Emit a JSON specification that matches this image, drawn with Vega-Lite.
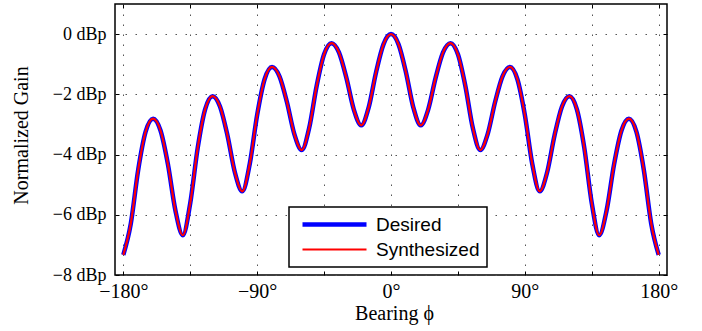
{
  "$schema": "https://vega.github.io/schema/vega-lite/v6.json",
  "width": 552,
  "height": 271,
  "autosize": {"type": "none"},
  "padding": {"left": 115, "top": 4, "right": 35, "bottom": 56},
  "background": "white",
  "config": {
    "view": {"stroke": "black", "strokeWidth": 1.5},
    "legend": {"strokeWidth": 1.5}
  },
  "data": {"values": [
    {"phi": -180, "Desired": -7.33, "Synthesized": -7.33},
    {"phi": -175, "Desired": -6.299, "Synthesized": -6.299},
    {"phi": -170, "Desired": -4.507, "Synthesized": -4.507},
    {"phi": -165, "Desired": -3.242, "Synthesized": -3.242},
    {"phi": -160, "Desired": -2.81, "Synthesized": -2.81},
    {"phi": -155, "Desired": -3.202, "Synthesized": -3.202},
    {"phi": -150, "Desired": -4.327, "Synthesized": -4.327},
    {"phi": -145, "Desired": -5.85, "Synthesized": -5.85},
    {"phi": -140, "Desired": -6.68, "Synthesized": -6.68},
    {"phi": -135, "Desired": -5.614, "Synthesized": -5.614},
    {"phi": -130, "Desired": -3.783, "Synthesized": -3.783},
    {"phi": -125, "Desired": -2.498, "Synthesized": -2.498},
    {"phi": -120, "Desired": -2.06, "Synthesized": -2.06},
    {"phi": -115, "Desired": -2.402, "Synthesized": -2.402},
    {"phi": -110, "Desired": -3.358, "Synthesized": -3.358},
    {"phi": -105, "Desired": -4.588, "Synthesized": -4.588},
    {"phi": -100, "Desired": -5.22, "Synthesized": -5.22},
    {"phi": -95, "Desired": -4.312, "Synthesized": -4.312},
    {"phi": -90, "Desired": -2.682, "Synthesized": -2.682},
    {"phi": -85, "Desired": -1.499, "Synthesized": -1.499},
    {"phi": -80, "Desired": -1.09, "Synthesized": -1.09},
    {"phi": -75, "Desired": -1.4, "Synthesized": -1.4},
    {"phi": -70, "Desired": -2.254, "Synthesized": -2.254},
    {"phi": -65, "Desired": -3.319, "Synthesized": -3.319},
    {"phi": -60, "Desired": -3.85, "Synthesized": -3.85},
    {"phi": -55, "Desired": -3.112, "Synthesized": -3.112},
    {"phi": -50, "Desired": -1.722, "Synthesized": -1.722},
    {"phi": -45, "Desired": -0.67, "Synthesized": -0.67},
    {"phi": -40, "Desired": -0.3, "Synthesized": -0.3},
    {"phi": -35, "Desired": -0.607, "Synthesized": -0.607},
    {"phi": -30, "Desired": -1.454, "Synthesized": -1.454},
    {"phi": -25, "Desired": -2.506, "Synthesized": -2.506},
    {"phi": -20, "Desired": -3.03, "Synthesized": -3.03},
    {"phi": -15, "Desired": -2.432, "Synthesized": -2.432},
    {"phi": -10, "Desired": -1.256, "Synthesized": -1.256},
    {"phi": -5, "Desired": -0.332, "Synthesized": -0.332},
    {"phi": 0, "Desired": 0, "Synthesized": 0},
    {"phi": 5, "Desired": -0.332, "Synthesized": -0.332},
    {"phi": 10, "Desired": -1.256, "Synthesized": -1.256},
    {"phi": 15, "Desired": -2.432, "Synthesized": -2.432},
    {"phi": 20, "Desired": -3.03, "Synthesized": -3.03},
    {"phi": 25, "Desired": -2.506, "Synthesized": -2.506},
    {"phi": 30, "Desired": -1.454, "Synthesized": -1.454},
    {"phi": 35, "Desired": -0.607, "Synthesized": -0.607},
    {"phi": 40, "Desired": -0.3, "Synthesized": -0.3},
    {"phi": 45, "Desired": -0.67, "Synthesized": -0.67},
    {"phi": 50, "Desired": -1.722, "Synthesized": -1.722},
    {"phi": 55, "Desired": -3.112, "Synthesized": -3.112},
    {"phi": 60, "Desired": -3.85, "Synthesized": -3.85},
    {"phi": 65, "Desired": -3.319, "Synthesized": -3.319},
    {"phi": 70, "Desired": -2.254, "Synthesized": -2.254},
    {"phi": 75, "Desired": -1.4, "Synthesized": -1.4},
    {"phi": 80, "Desired": -1.09, "Synthesized": -1.09},
    {"phi": 85, "Desired": -1.499, "Synthesized": -1.499},
    {"phi": 90, "Desired": -2.682, "Synthesized": -2.682},
    {"phi": 95, "Desired": -4.312, "Synthesized": -4.312},
    {"phi": 100, "Desired": -5.22, "Synthesized": -5.22},
    {"phi": 105, "Desired": -4.588, "Synthesized": -4.588},
    {"phi": 110, "Desired": -3.358, "Synthesized": -3.358},
    {"phi": 115, "Desired": -2.402, "Synthesized": -2.402},
    {"phi": 120, "Desired": -2.06, "Synthesized": -2.06},
    {"phi": 125, "Desired": -2.498, "Synthesized": -2.498},
    {"phi": 130, "Desired": -3.783, "Synthesized": -3.783},
    {"phi": 135, "Desired": -5.614, "Synthesized": -5.614},
    {"phi": 140, "Desired": -6.68, "Synthesized": -6.68},
    {"phi": 145, "Desired": -5.85, "Synthesized": -5.85},
    {"phi": 150, "Desired": -4.327, "Synthesized": -4.327},
    {"phi": 155, "Desired": -3.202, "Synthesized": -3.202},
    {"phi": 160, "Desired": -2.81, "Synthesized": -2.81},
    {"phi": 165, "Desired": -3.242, "Synthesized": -3.242},
    {"phi": 170, "Desired": -4.507, "Synthesized": -4.507},
    {"phi": 175, "Desired": -6.299, "Synthesized": -6.299},
    {"phi": 180, "Desired": -7.33, "Synthesized": -7.33}
  ]},
  "transform": [{"fold": ["Desired", "Synthesized"], "as": ["series", "gain"]}],
  "layer": [
    {
      "mark": {"type": "line", "interpolate": "monotone", "clip": true},
      "encoding": {
        "x": {
          "field": "phi", "type": "quantitative",
          "scale": {"domain": [-185.6, 185.6], "nice": false, "zero": false},
          "axis": {
            "orient": "bottom",
            "values": [-180, -135, -90, -45, 0, 45, 90, 135, 180],
            "labelExpr": "datum.value % 90 == 0 ? (datum.value < 0 ? '\u2212' + abs(datum.value) : '' + datum.value) + '\u00b0' : ''",
            "labelFont": "Liberation Serif", "labelFontSize": 20, "labelColor": "black",
            "labelBaseline": "alphabetic", "labelPadding": 26, "labelFlush": false, "labelOverlap": false,
            "tickSize": -4, "tickColor": "black", "tickWidth": 1,
            "domain": false,
            "grid": true, "gridDash": [1.5, 8.5], "gridColor": "#555555", "gridWidth": 1,
            "title": "Bearing \u03d5", "titleFont": "Liberation Serif", "titleFontSize": 20,
            "titleFontWeight": "normal", "titleColor": "black",
            "titleX": 279, "titleY": 44, "titleBaseline": "alphabetic", "titleAnchor": "middle"
          }
        },
        "y": {
          "field": "gain", "type": "quantitative",
          "scale": {"domain": [-8, 1], "nice": false, "zero": false},
          "axis": {
            "orient": "left",
            "values": [-8, -6, -4, -2, 0],
            "labelExpr": "(datum.value < 0 ? '\u2212' + abs(datum.value) : '' + datum.value) + ' dBp'",
            "labelFont": "Liberation Serif", "labelFontSize": 18, "labelColor": "black",
            "labelBaseline": "middle", "labelPadding": 13, "labelFlush": false, "labelOverlap": false,
            "tickSize": -4, "tickColor": "black", "tickWidth": 1,
            "domain": false,
            "grid": true, "gridDash": [1.5, 8.5], "gridColor": "#555555", "gridWidth": 1,
            "title": "Normalized Gain", "titleFont": "Liberation Serif", "titleFontSize": 20,
            "titleFontWeight": "normal", "titleColor": "black",
            "titleX": -94, "titleY": 131, "titleBaseline": "middle", "titleAnchor": "middle"
          }
        },
        "color": {
          "field": "series", "type": "nominal",
          "scale": {"domain": ["Desired", "Synthesized"], "range": ["#0000ff", "#ff0000"]},
          "legend": {
            "title": null, "orient": "none", "legendX": 174, "legendY": 203,
            "symbolType": "M-4,0H4", "symbolSize": 256, "symbolOffset": 28,
            "labelFont": "Liberation Sans", "labelFontSize": 19, "labelColor": "black",
            "labelOffset": 31, "labelLimit": 300,
            "strokeColor": "black", "fillColor": "white", "padding": 7, "rowPadding": 5,
            "cornerRadius": 0
          }
        },
        "strokeWidth": {
          "field": "series", "type": "ordinal",
          "scale": {"domain": ["Desired", "Synthesized"], "range": [4.5, 2.2]},
          "legend": {
            "title": null, "orient": "none", "legendX": 174, "legendY": 203,
            "symbolType": "M-4,0H4", "symbolSize": 256, "symbolOffset": 28,
            "labelFont": "Liberation Sans", "labelFontSize": 19, "labelColor": "black",
            "labelOffset": 31, "labelLimit": 300,
            "strokeColor": "black", "fillColor": "white", "padding": 7, "rowPadding": 5,
            "cornerRadius": 0
          }
        }
      }
    },
    {
      "mark": {"type": "line", "opacity": 0},
      "encoding": {
        "x": {
          "field": "phi", "type": "quantitative",
          "axis": {
            "orient": "top", "values": [-180, -135, -90, -45, 0, 45, 90, 135, 180],
            "labels": false, "tickSize": -4, "tickColor": "black", "domain": false, "grid": false, "title": null
          }
        },
        "y": {
          "field": "Desired", "type": "quantitative",
          "axis": {
            "orient": "right", "values": [-8, -6, -4, -2, 0],
            "labels": false, "tickSize": -4, "tickColor": "black", "domain": false, "grid": false, "title": null
          }
        }
      }
    }
  ],
  "resolve": {"axis": {"x": "independent", "y": "independent"}}
}
